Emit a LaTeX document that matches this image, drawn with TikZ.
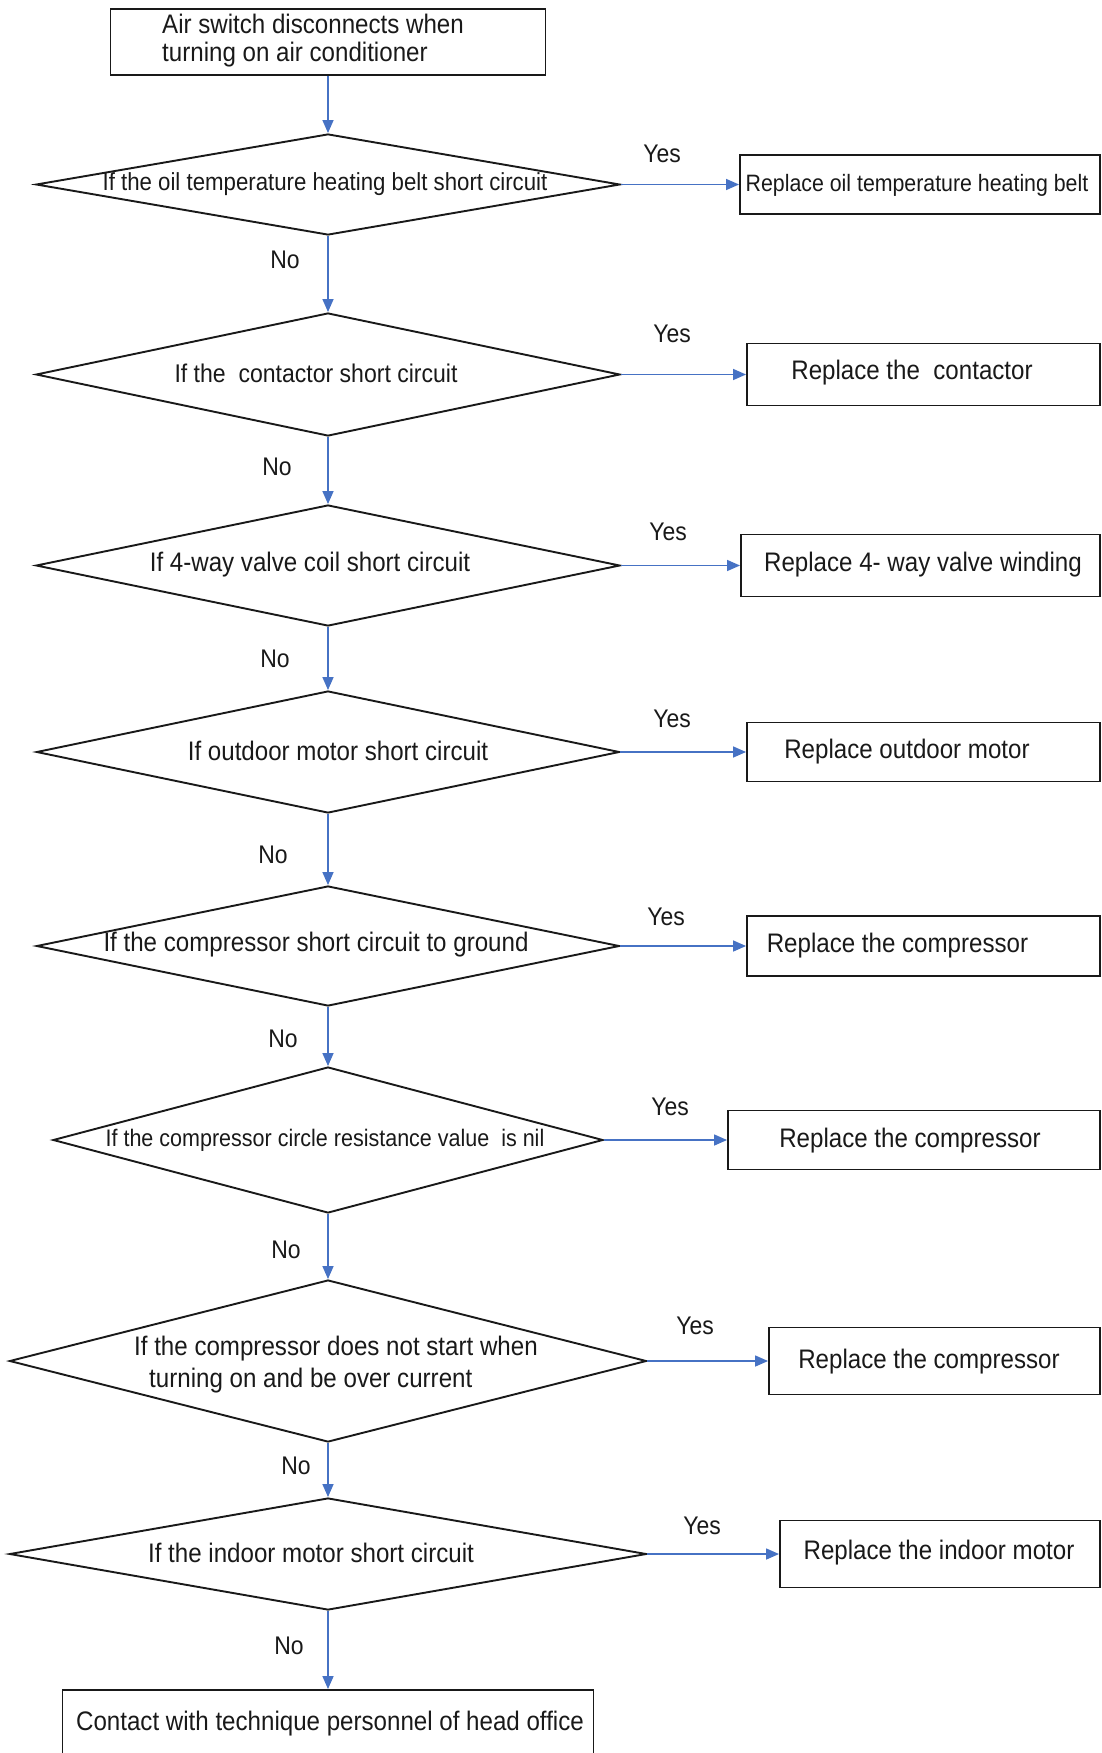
\documentclass[tikz,border=0pt]{standalone}
\usepackage{fontspec}
\setmainfont{Liberation Sans}[FakeStretch=0.9]
\usetikzlibrary{arrows.meta,shapes.geometric}
\definecolor{flowblue}{RGB}{70,114,196}
\definecolor{ink}{RGB}{25,25,25}
\begin{document}
\begin{tikzpicture}[x=1pt,y=-1pt,
  outline/.style={draw=ink, line width=1.9pt, inner sep=0pt},
  decision/.style={outline, diamond},
  stepbox/.style={outline, rectangle},
  txt/.style={text=ink, inner sep=0pt, font=\fontsize{26.8}{30}\selectfont},
  yn/.style={text=ink, inner sep=0pt, font=\fontsize{25.5}{28}\selectfont},
  flow/.style={draw=flowblue, line width=1.5pt, -{Triangle[length=13pt,width=11pt]}},
]
\useasboundingbox (0,0) rectangle (1102,1753);

% start box
\node[stepbox, minimum width=435pt, minimum height=66pt] (start) at (328,42) {};
\node[txt, align=left, anchor=west, font=\fontsize{26.8}{28}\selectfont] (startt) at (162,41)
  {Air switch disconnects when\\turning on air conditioner};

% decisions
\node[decision, minimum width=584pt, minimum height=101pt] (d1) at (328,184.5) {};
\node[decision, minimum width=584pt, minimum height=123pt] (d2) at (328,374.5) {};
\node[decision, minimum width=584pt, minimum height=121pt] (d3) at (328,565.5) {};
\node[decision, minimum width=583pt, minimum height=122pt] (d4) at (328,752) {};
\node[decision, minimum width=583pt, minimum height=120pt] (d5) at (328,946) {};
\node[decision, minimum width=550pt, minimum height=146pt] (d6) at (328,1140) {};
\node[decision, minimum width=637pt, minimum height=162pt] (d7) at (328,1361) {};
\node[decision, minimum width=637pt, minimum height=112pt] (d8) at (328,1554) {};

\node[txt, font=\fontsize{24.7}{28}\selectfont] (d1t) at (325,184.5) {If the oil temperature heating belt short circuit};
\node[txt, font=\fontsize{25.6}{28}\selectfont] (d2t) at (316,373) {If the\ \ contactor short circuit};
\node[txt] (d3t) at (310,565) {If 4-way valve coil short circuit};
\node[txt] (d4t) at (338,751) {If outdoor motor short circuit};
\node[txt] (d5t) at (316,945) {If the compressor short circuit to ground};
\node[txt, font=\fontsize{23.9}{28}\selectfont] (d6t) at (325,1140) {If the compressor circle resistance value\ \ is nil};
\node[txt, align=left, anchor=west, font=\fontsize{26.8}{32}\selectfont] (d7t) at (134,1365)
  {If the compressor does not start when\\\hspace*{15pt}turning on and be over current};
\node[txt] (d8t) at (311,1553) {If the indoor motor short circuit};

% action boxes
\node[stepbox, minimum width=360pt, minimum height=59pt] (r1) at (920,184.5) {};
\node[stepbox, minimum width=353pt, minimum height=62pt] (r2) at (923.5,374.5) {};
\node[stepbox, minimum width=359pt, minimum height=62pt] (r3) at (920.5,565.5) {};
\node[stepbox, minimum width=353pt, minimum height=59pt] (r4) at (923.5,752) {};
\node[stepbox, minimum width=353pt, minimum height=60pt] (r5) at (923.5,946) {};
\node[stepbox, minimum width=372pt, minimum height=59pt] (r6) at (914,1140) {};
\node[stepbox, minimum width=331pt, minimum height=67pt] (r7) at (934.5,1361) {};
\node[stepbox, minimum width=320pt, minimum height=67pt] (r8) at (940,1554) {};
\node[stepbox, minimum width=531pt, minimum height=68pt] (fin) at (328,1724) {};

\node[txt, font=\fontsize{23.7}{28}\selectfont] (r1t) at (917,185) {Replace oil temperature heating belt};
\node[txt] (r2t) at (912,373) {Replace the\ \ contactor};
\node[txt] (r3t) at (923,565) {Replace 4- way valve winding};
\node[txt] (r4t) at (907,752) {Replace outdoor motor};
\node[txt] (r5t) at (897.5,946) {Replace the compressor};
\node[txt] (r6t) at (910,1141) {Replace the compressor};
\node[txt] (r7t) at (929,1362) {Replace the compressor};
\node[txt] (r8t) at (939,1553) {Replace the indoor motor};
\node[txt] (fint) at (330,1724) {Contact with technique personnel of head office};

% main flow
\draw[flow] (start.south) -- (d1.north);
\draw[flow] (d1.south) -- (d2.north);
\draw[flow] (d2.south) -- (d3.north);
\draw[flow] (d3.south) -- (d4.north);
\draw[flow] (d4.south) -- (d5.north);
\draw[flow] (d5.south) -- (d6.north);
\draw[flow] (d6.south) -- (d7.north);
\draw[flow] (d7.south) -- (d8.north);
\draw[flow] (d8.south) -- (fin.north);

% yes branches
\draw[flow] (d1.east) -- (r1.west);
\draw[flow] (d2.east) -- (r2.west);
\draw[flow] (d3.east) -- (r3.west);
\draw[flow] (d4.east) -- (r4.west);
\draw[flow] (d5.east) -- (r5.west);
\draw[flow] (d6.east) -- (r6.west);
\draw[flow] (d7.east) -- (r7.west);
\draw[flow] (d8.east) -- (r8.west);

% branch labels
\node[yn] (y1) at (662,154) {Yes};
\node[yn] (y2) at (672,334) {Yes};
\node[yn] (y3) at (668,532) {Yes};
\node[yn] (y4) at (672,719) {Yes};
\node[yn] (y5) at (666,917) {Yes};
\node[yn] (y6) at (670,1107) {Yes};
\node[yn] (y7) at (695,1326) {Yes};
\node[yn] (y8) at (702,1526) {Yes};

\node[yn] (n1) at (285,260) {No};
\node[yn] (n2) at (277,467) {No};
\node[yn] (n3) at (275,659) {No};
\node[yn] (n4) at (273,855) {No};
\node[yn] (n5) at (283,1039) {No};
\node[yn] (n6) at (286,1250) {No};
\node[yn] (n7) at (296,1466) {No};
\node[yn] (n8) at (289,1646) {No};
\end{tikzpicture}
\end{document}
